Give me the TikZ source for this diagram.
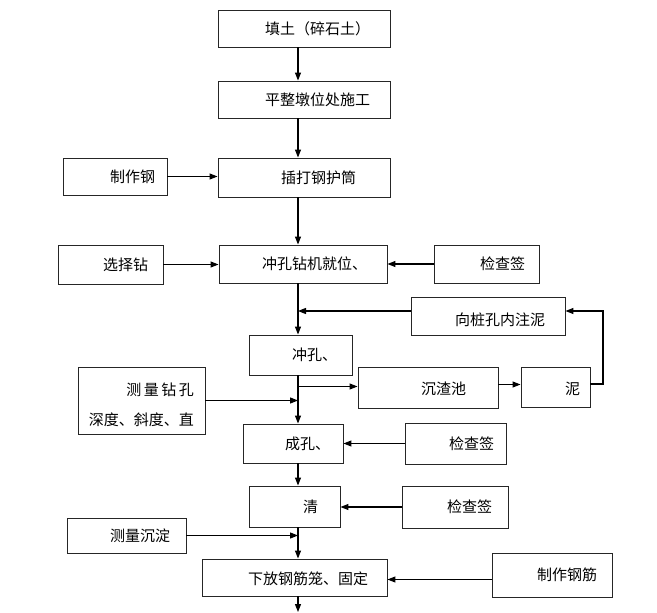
\documentclass[tikz,border=0pt]{standalone}
\usepackage{fontspec}
\setmainfont{Noto Sans CJK SC}
\usetikzlibrary{arrows.meta}
\tikzset{
  box/.style={draw=black!85,line width=0.9pt,inner sep=0pt},
  txt/.style={anchor=west,inner sep=0pt,font=\fontsize{15}{18}\selectfont},
  arr/.style={-{Triangle[length=8pt,width=6pt]},line width=1.1pt},
}
\begin{document}
\begin{tikzpicture}[x=1pt,y=-1pt]
\useasboundingbox (0,0) rectangle (657,613);
\coordinate (ax) at (298,0);
\coordinate (lp) at (603,0);
\coordinate (end) at (298,612);

% main column
\node[box,minimum width=172,minimum height=37] (tian) at (304,28.5) {};
\node[box,minimum width=172,minimum height=37] (ping) at (304,99.5) {};
\node[box,minimum width=172,minimum height=39] (chada) at (304,177.5) {};
\node[box,minimum width=168,minimum height=38] (jiuwei) at (303,264) {};
\node[box,minimum width=103,minimum height=40] (chong) at (300.5,355) {};
\node[box,minimum width=100,minimum height=39] (cheng) at (293,443.5) {};
\node[box,minimum width=91,minimum height=41] (qing) at (294.5,506.5) {};
\node[box,minimum width=185,minimum height=37] (xiafang) at (294.5,577.5) {};

% side boxes
\node[box,minimum width=104,minimum height=37] (zzg) at (115,176.5) {};
\node[box,minimum width=105,minimum height=39] (xuanze) at (110.5,264.5) {};
\node[box,minimum width=105,minimum height=38] (jc1) at (486.5,264) {};
\node[box,minimum width=154,minimum height=38] (zhuni) at (488,316) {};
\node[box,minimum width=140,minimum height=41] (chenzha) at (428,387.5) {};
\node[box,minimum width=69,minimum height=40] (ni) at (555.5,387) {};
\node[box,minimum width=127,minimum height=67] (czk) at (141.5,400.5) {};
\node[box,minimum width=101,minimum height=41] (jc2) at (455.5,443.5) {};
\node[box,minimum width=106,minimum height=42] (jc3) at (455,507) {};
\node[box,minimum width=119,minimum height=35] (ccd) at (126.5,535.5) {};
\node[box,minimum width=120,minimum height=44] (zzgj) at (552,575) {};

% texts
\node[txt] (tian-t) at (265,28.5) {填土（碎石土）};
\node[txt] (ping-t) at (265,99.5) {平整墩位处施工};
\node[txt] (chada-t) at (281,177.5) {插打钢护筒};
\node[txt] (jiuwei-t) at (262,264) {冲孔钻机就位、};
\node[txt] (chong-t) at (292,355) {冲孔、};
\node[txt] (cheng-t) at (285,443.5) {成孔、};
\node[txt] (qing-t) at (303,507) {清};
\node[txt] (xiafang-t) at (248,579) {下放钢筋笼、固定};
\node[txt] (zzg-t) at (110,176.5) {制作钢};
\node[txt] (xuanze-t) at (103,264.5) {选择钻};
\node[txt] (jc1-t) at (480,264) {检查签};
\node[txt] (zhuni-t) at (455,320) {向桩孔内注泥};
\node[txt] (chenzha-t) at (421,389) {沉渣池};
\node[txt] (ni-t) at (565,389) {泥};
\node[txt,anchor=east,align=right,font=\fontsize{15}{30}\selectfont] (czk-t) at (194,404.5) {测\,量\,钻\,孔\\深度、斜度、直};
\node[txt] (jc2-t) at (449,443.5) {检查签};
\node[txt] (jc3-t) at (447,507) {检查签};
\node[txt] (ccd-t) at (110,535.5) {测量沉淀};
\node[txt] (zzgj-t) at (537,575) {制作钢筋};

% main flow
\draw[arr] (tian.south -| ax) -- (ping.north -| ax);
\draw[arr] (ping.south -| ax) -- (chada.north -| ax);
\draw[arr] (chada.south -| ax) -- (jiuwei.north -| ax);
\draw[arr] (jiuwei.south -| ax) -- (chong.north -| ax);
\draw[arr] (chong.south -| ax) -- (cheng.north -| ax);
\draw[arr] (cheng.south -| ax) -- (qing.north -| ax);
\draw[arr] (qing.south -| ax) -- (xiafang.north -| ax);
\draw[arr] (xiafang.south -| ax) -- (end);

% side arrows
\draw[arr] (zzg.east) -- (zzg.east -| chada.west);
\draw[arr] (xuanze.east) -- (xuanze.east -| jiuwei.west);
\draw[arr] (jc1.west) -- (jc1.west -| jiuwei.east);
\draw[arr] ([yshift=5pt]zhuni.west) -- ([yshift=5pt]zhuni.west -| ax);
\draw[arr] ([yshift=1pt]chenzha.west -| ax) -- ([yshift=1pt]chenzha.west);
\draw[arr] ([yshift=3pt]chenzha.east) -- ([yshift=3pt]chenzha.east -| ni.west);
\draw[arr] ([yshift=3pt]ni.east) -- ([yshift=3pt]ni.east -| lp) -- ([yshift=5pt]zhuni.east -| lp) -- ([yshift=5pt]zhuni.east);
\draw[arr] (czk.east) -- (czk.east -| ax);
\draw[arr] (jc2.west) -- (jc2.west -| cheng.east);
\draw[arr] (jc3.west) -- (jc3.west -| qing.east);
\draw[arr] (ccd.east) -- (ccd.east -| ax);
\draw[arr] ([yshift=-2pt]zzgj.west |- xiafang.east) -- ([yshift=-2pt]xiafang.east);
\end{tikzpicture}
\end{document}
